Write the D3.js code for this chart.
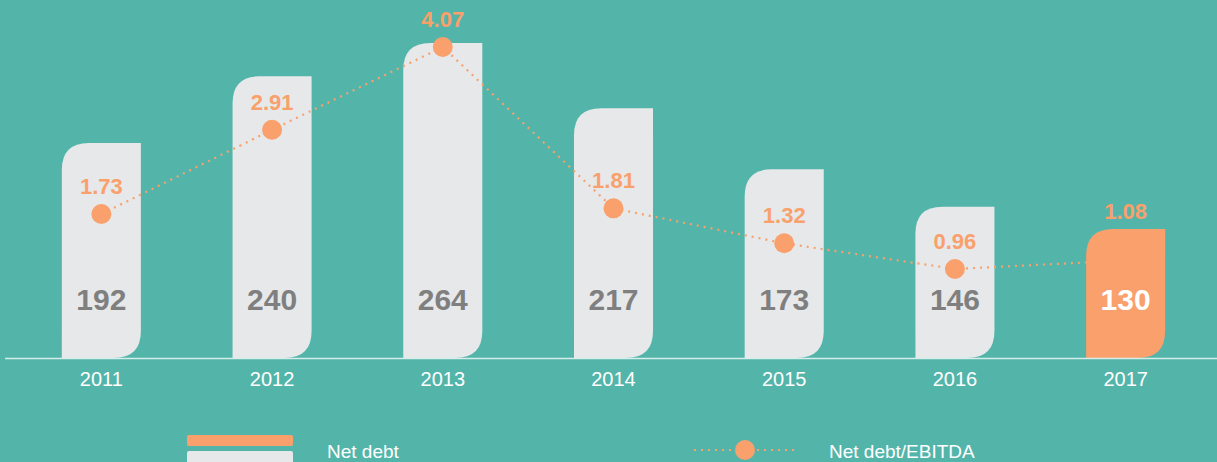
<!DOCTYPE html>
<html>
<head>
<meta charset="utf-8">
<script src="https://cdn.jsdelivr.net/npm/d3@7"></script>
<style>
  html, body { margin: 0; padding: 0; background: #53b5aa; }
  svg { display: block; font-family: "Liberation Sans", Arial, sans-serif; }
</style>
</head>
<body>
<div id="graph"></div>
<script>
// Net debt bars with Net debt/EBITDA dotted line

const graph = { width: 1217, height: 462 };

// chart values
const years = ['2011', '2012', '2013', '2014', '2015', '2016', '2017'];
const netDebt = [192, 240, 264, 217, 173, 146, 130];
const ratio = [1.73, 2.91, 4.07, 1.81, 1.32, 0.96, 1.08];

const colors = {
  bg: '#53b5aa',
  bar: '#e7e8ea',
  accent: '#f9a06c',
  valueText: '#7f7f80',
  axis: '#d6eeea'
};

const data = years.map((y, i) => ({ year: y, debt: netDebt[i], ratio: ratio[i], last: i === years.length - 1 }));

const baseY = 358;

const svg = d3.select('#graph').append('svg')
  .attr('width', graph.width)
  .attr('height', graph.height);

svg.append('rect')
  .attr('width', graph.width)
  .attr('height', graph.height)
  .attr('fill', colors.bg);

// scales
const x = d3.scaleBand()
  .domain(years)
  .range([16, 1211])
  .paddingInner(0.537)
  .paddingOuter(0.2685);

const yBar = d3.scaleLinear()
  .domain([37, 264])
  .range([baseY, 43]);

const yRatio = d3.scaleLinear()
  .domain([0.96, 4.07])
  .range([269, 47]);

const cx = d => x(d.year) + x.bandwidth() / 2;

// bar with rounded top-left and bottom-right corners
function barPath(d) {
  const x0 = x(d.year), x1 = x0 + x.bandwidth();
  const y0 = yBar(d.debt), y1 = baseY;
  const r = 27;
  return `M${x0},${y1}` +
    `L${x0},${y0 + r}` +
    `Q${x0},${y0} ${x0 + r},${y0}` +
    `L${x1},${y0}` +
    `L${x1},${y1 - r}` +
    `Q${x1},${y1} ${x1 - r},${y1}` +
    `Z`;
}

// grey bars (all but last)
svg.selectAll('.bar')
  .data(data.filter(d => !d.last))
  .enter().append('path')
    .attr('class', 'bar')
    .attr('d', barPath)
    .attr('fill', colors.bar);

// dotted ratio line
const line = d3.line()
  .x(cx)
  .y(d => yRatio(d.ratio));

svg.append('path')
  .datum(data)
  .attr('d', line)
  .attr('fill', 'none')
  .attr('stroke', colors.accent)
  .attr('stroke-width', 2.2)
  .attr('stroke-dasharray', '2 5');

// highlighted last bar drawn over the line
svg.selectAll('.bar-last')
  .data(data.filter(d => d.last))
  .enter().append('path')
    .attr('class', 'bar-last')
    .attr('d', barPath)
    .attr('fill', colors.accent);

// dots
svg.selectAll('.dot')
  .data(data.filter(d => !d.last))
  .enter().append('circle')
    .attr('class', 'dot')
    .attr('r', 10)
    .attr('cx', cx)
    .attr('cy', d => yRatio(d.ratio))
    .attr('fill', colors.accent);

// ratio labels
svg.selectAll('.ratio-label')
  .data(data)
  .enter().append('text')
    .attr('class', 'ratio-label')
    .attr('x', cx)
    .attr('y', d => d.last ? yBar(d.debt) - 10 : yRatio(d.ratio) - 20)
    .attr('text-anchor', 'middle')
    .attr('font-size', 22)
    .attr('font-weight', 'bold')
    .attr('fill', colors.accent)
    .text(d => d.ratio.toFixed(2));

// debt values inside bars
svg.selectAll('.debt-label')
  .data(data)
  .enter().append('text')
    .attr('class', 'debt-label')
    .attr('x', cx)
    .attr('y', 310)
    .attr('text-anchor', 'middle')
    .attr('font-size', 30)
    .attr('font-weight', 'bold')
    .attr('fill', d => d.last ? '#ffffff' : colors.valueText)
    .text(d => d.debt);

// baseline
svg.append('line')
  .attr('x1', 5).attr('x2', graph.width)
  .attr('y1', baseY + 0.5).attr('y2', baseY + 0.5)
  .attr('stroke', colors.axis)
  .attr('stroke-width', 1.5);

// year labels
svg.selectAll('.year')
  .data(data)
  .enter().append('text')
    .attr('class', 'year')
    .attr('x', cx)
    .attr('y', 386)
    .attr('text-anchor', 'middle')
    .attr('font-size', 20)
    .attr('fill', '#ffffff')
    .text(d => d.year);

// legend
const legend = svg.append('g');
legend.append('rect')
  .attr('x', 187).attr('y', 435).attr('width', 106).attr('height', 11)
  .attr('rx', 2).attr('fill', colors.accent);
legend.append('rect')
  .attr('x', 187).attr('y', 451).attr('width', 106).attr('height', 14)
  .attr('rx', 2).attr('fill', colors.bar);
legend.append('text')
  .attr('x', 327).attr('y', 458)
  .attr('font-size', 19).attr('fill', '#ffffff')
  .text('Net debt');

legend.append('line')
  .attr('x1', 694).attr('x2', 798)
  .attr('y1', 450).attr('y2', 450)
  .attr('stroke', colors.accent)
  .attr('stroke-width', 2.2)
  .attr('stroke-dasharray', '2 5');
legend.append('circle')
  .attr('cx', 745).attr('cy', 450).attr('r', 10)
  .attr('fill', colors.accent);
legend.append('text')
  .attr('x', 829).attr('y', 458)
  .attr('font-size', 19).attr('fill', '#ffffff')
  .text('Net debt/EBITDA');
</script>
</body>
</html>
